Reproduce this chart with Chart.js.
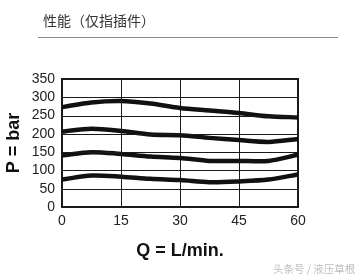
<!DOCTYPE html>
<html lang="zh">
<head>
<meta charset="UTF-8" />
<title>性能（仅指插件）</title>
<script src="https://cdn.jsdelivr.net/npm/chart.js@4.4.1/dist/chart.umd.min.js"></script>
<style>
  html, body { margin: 0; padding: 0; background: #fff; }
  #wrap { position: relative; width: 363px; height: 277px; overflow: hidden; }
  #title {
    position: absolute; left: 43px; top: 10px;
    font: 14px "Noto Sans CJK SC", sans-serif; color: #333; line-height: 20px;
  }
  #rule { position: absolute; left: 38px; top: 37px; width: 300px; height: 0; border-top: 1.5px solid #8c8c8c; }
  #mark {
    position: absolute; left: 273px; top: 262px;
    font: 10.5px "Noto Sans CJK SC", sans-serif; color: #bdbdbd; line-height: 14px;
  }
  canvas { position: absolute; left: 0; top: 0; }
</style>
</head>
<body>
<div id="wrap">
  <canvas id="myChart" width="363" height="277"></canvas>
  <div id="title">性能（仅指插件）</div>
  <div id="rule"></div>
  <div id="mark">头条号 / 液压草根</div>
</div>
<script>
// flow Q (L/min) where the curves were read
const flows = [0, 7.5, 15, 22.5, 30, 37.5, 45, 52.5, 60];
// pressure P (bar) for each setting curve
const curve1 = [273, 286, 290, 283, 271, 264, 257, 248, 245];
const curve2 = [206, 214, 208, 198, 196, 189, 183, 178, 186];
const curve3 = [141, 150, 145, 138, 134, 126, 126, 126, 143];
const curve4 = [75, 86, 83, 77, 74, 68, 70, 75, 89];

const xTicks = [0, 15, 30, 45, 60];
const yTicks = [0, 50, 100, 150, 200, 250, 300, 350];

function pts(ys) {
  return flows.map((q, i) => ({ x: q, y: ys[i] }));
}

const xMax = xTicks[xTicks.length - 1];
const yMax = yTicks[yTicks.length - 1];
const ink = '#1a1a1a';
const lineStyle = {
  borderColor: '#111',
  borderWidth: 4.5,
  pointRadius: 0,
  tension: 0.3,
  fill: false
};

// horizontal grid + top frame, placed through the y scale
const hGrid = {
  id: 'hGrid',
  afterDraw(chart) {
    const c = chart.ctx;
    const area = chart.chartArea;
    const ys = chart.scales.y;
    c.save();
    c.fillStyle = ink;
    yTicks.forEach(v => {
      const h = v === yMax ? 2 : 1;
      const y = Math.round(ys.getPixelForValue(v)) - (h === 2 ? 1 : 0);
      c.fillRect(Math.round(area.left) - 1, y, Math.round(area.right - area.left) + 2, h);
    });
    c.restore();
  }
};

const myChart = new Chart(document.getElementById('myChart'), {
  type: 'line',
  data: {
    datasets: [
      { label: 'c1', data: pts(curve1), ...lineStyle },
      { label: 'c2', data: pts(curve2), ...lineStyle },
      { label: 'c3', data: pts(curve3), ...lineStyle },
      { label: 'c4', data: pts(curve4), ...lineStyle }
    ]
  },
  plugins: [hGrid],
  options: {
    responsive: false,
    animation: false,
    layout: { padding: { left: 0, top: 79, right: 65, bottom: 0 } },
    plugins: { legend: { display: false }, tooltip: { enabled: false } },
    scales: {
      x: {
        type: 'linear',
        min: xTicks[0],
        max: xMax,
        afterFit: s => { s.height = 70; },
        grid: {
          color: ink,
          lineWidth: c => (c.tick && c.tick.value === xMax ? 2 : 1),
          drawTicks: false
        },
        border: { display: true, color: ink, width: 2 },
        ticks: {
          stepSize: xTicks[1] - xTicks[0],
          autoSkip: false,
          padding: 6,
          maxRotation: 0,
          color: '#222',
          font: { family: 'Liberation Sans', size: 14 }
        },
        title: {
          display: true,
          text: 'Q = L/min.',
          color: '#111',
          font: { family: 'Liberation Sans', size: 18, weight: 'bold' },
          padding: { top: 0, bottom: 15 }
        }
      },
      y: {
        min: yTicks[0],
        max: yMax,
        afterFit: s => { s.width = 62; },
        grid: { display: false, drawTicks: false },
        border: { display: true, color: ink, width: 2 },
        ticks: {
          stepSize: yTicks[1] - yTicks[0],
          autoSkip: false,
          padding: 7,
          color: '#222',
          font: { family: 'Liberation Sans', size: 14 }
        },
        title: {
          display: true,
          text: 'P = bar',
          color: '#111',
          font: { family: 'Liberation Sans', size: 18, weight: 'bold' },
          padding: { top: 3, bottom: 0 }
        }
      }
    }
  }
});
</script>
</body>
</html>
